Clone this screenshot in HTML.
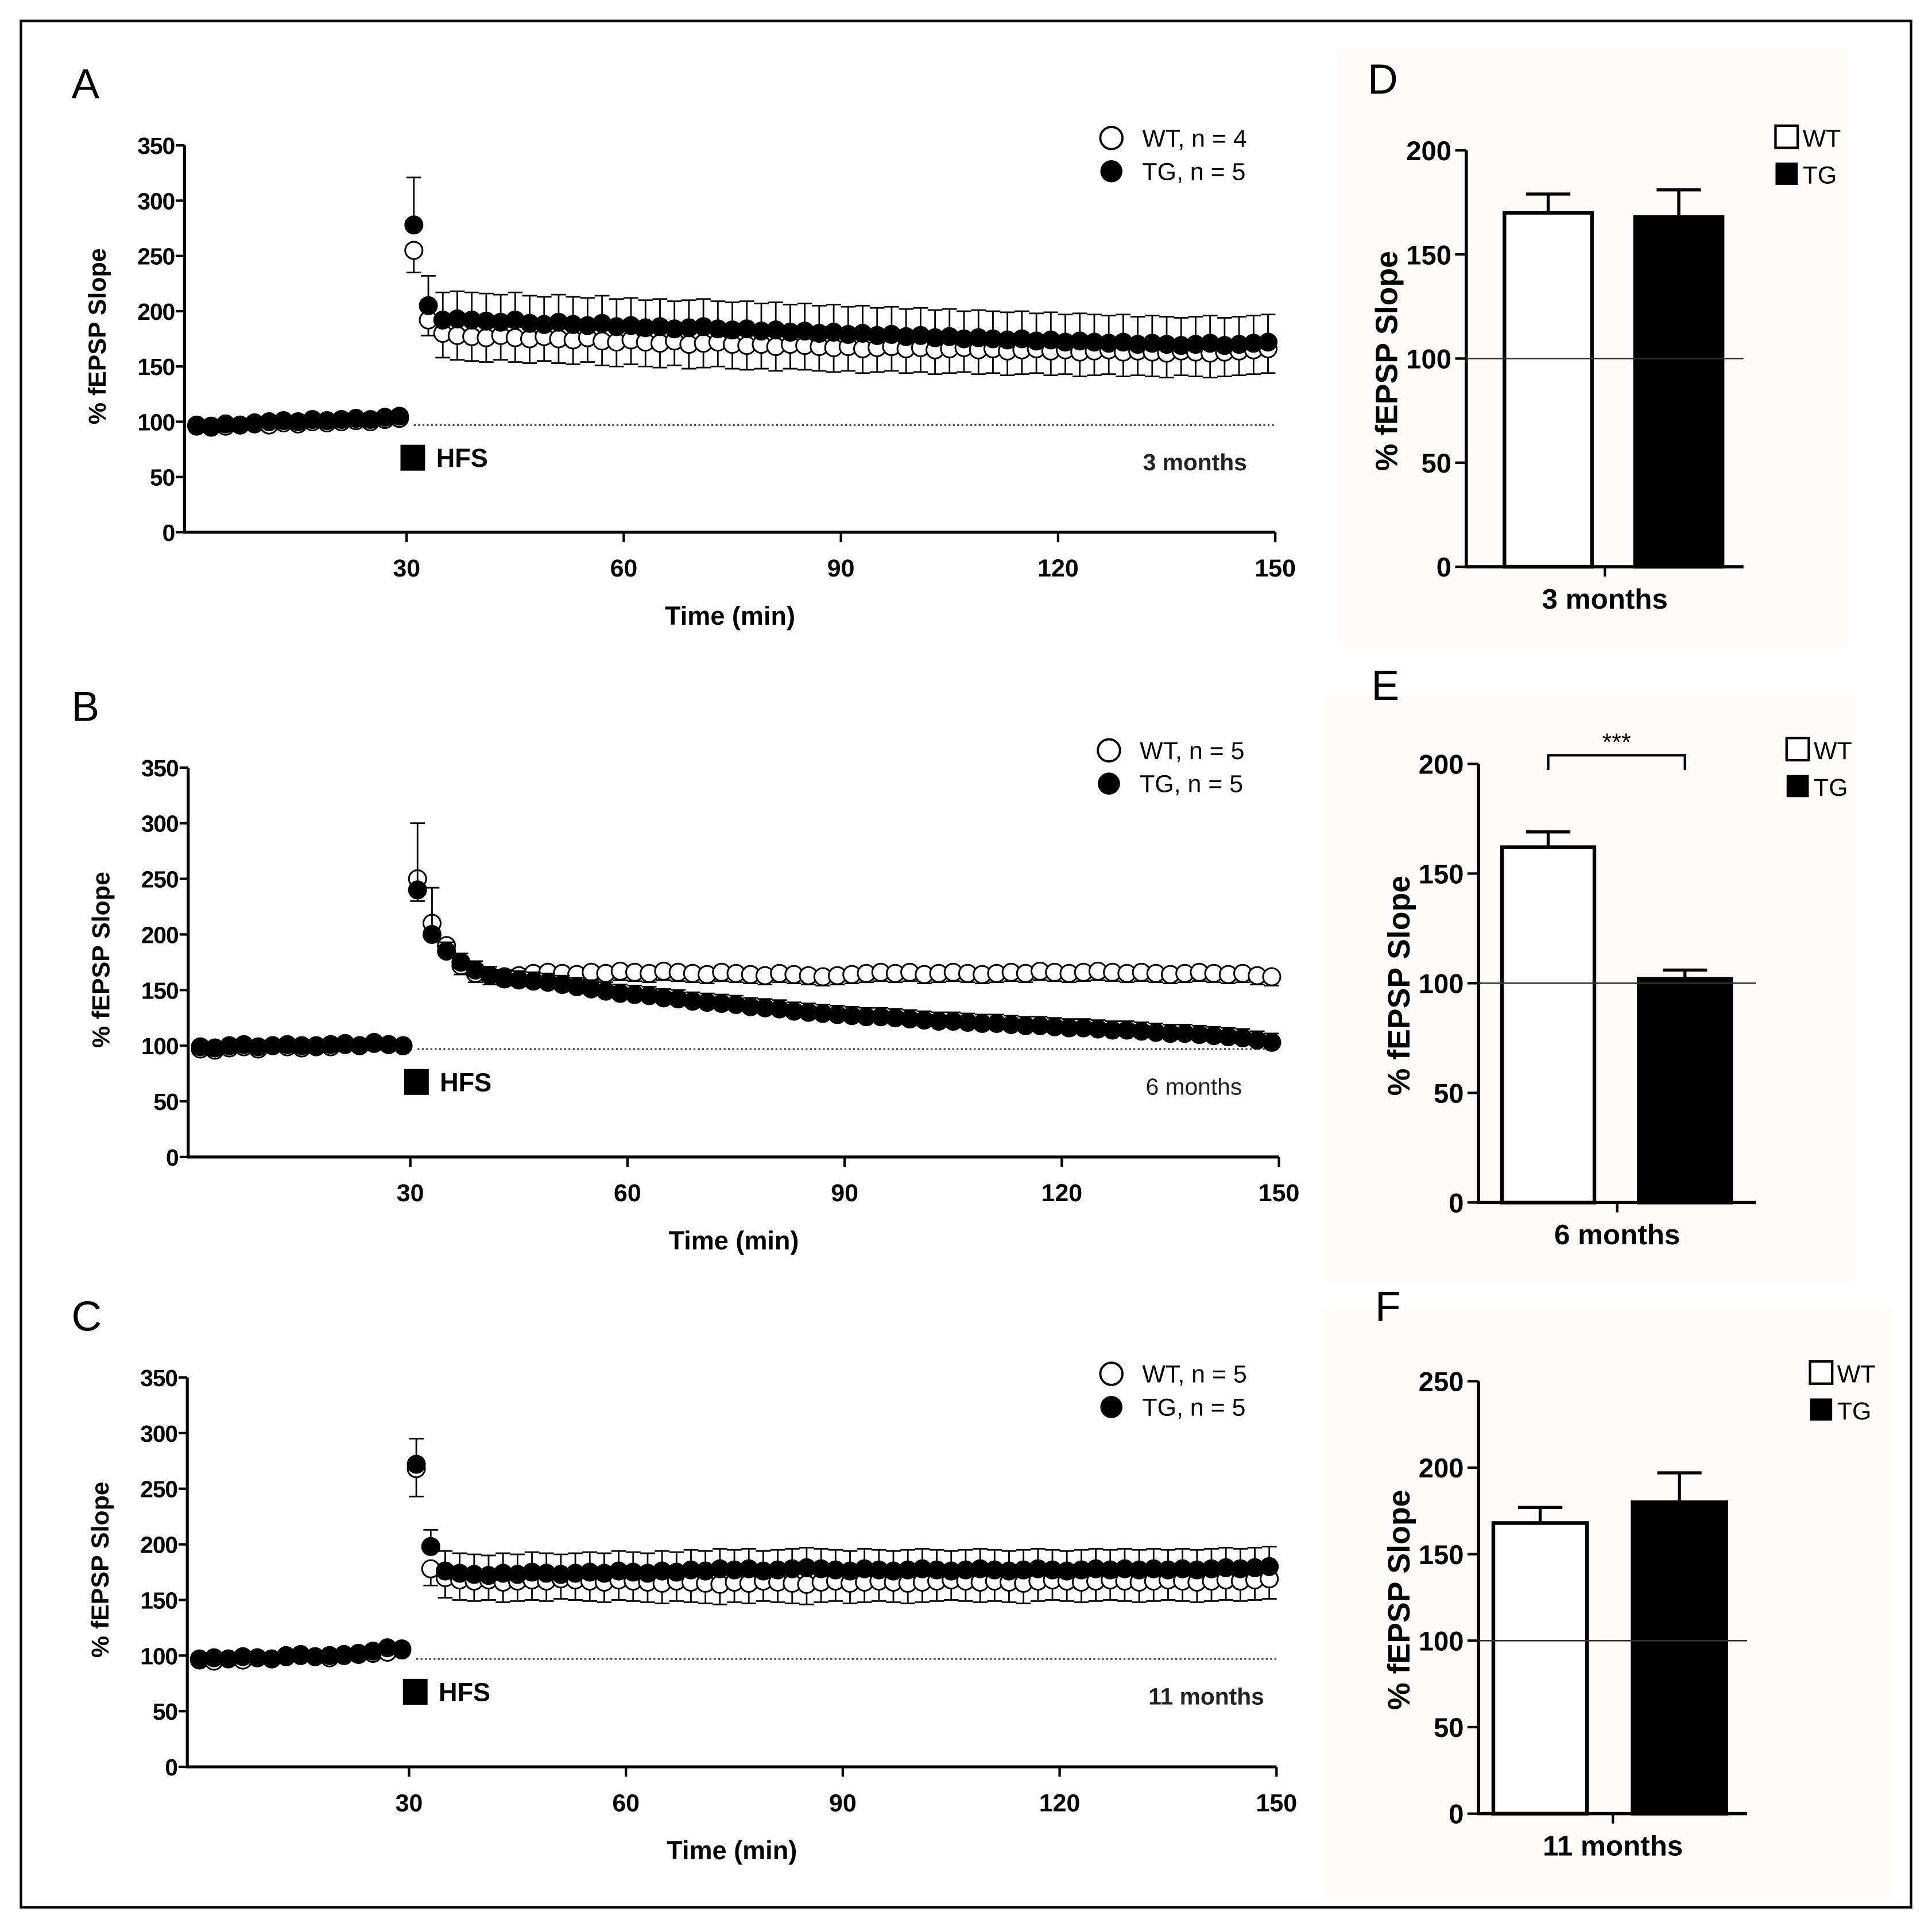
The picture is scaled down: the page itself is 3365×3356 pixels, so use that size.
<!DOCTYPE html>
<html><head><meta charset="utf-8"><style>
html,body{margin:0;padding:0;background:#fff}
svg{display:block}
text{font-family:"Liberation Sans",Arial,sans-serif}
</style></head><body>
<svg id="fig" width="3365" height="3356" viewBox="0 0 1568 1564" preserveAspectRatio="none" xmlns="http://www.w3.org/2000/svg">
<rect x="0" y="0" width="1568" height="1564" fill="#fff"/>
<rect x="17" y="17" width="1534" height="1531" fill="none" stroke="#000" stroke-width="2"/>
<rect x="1085" y="40" width="415" height="485" fill="#fdfcfa"/>
<rect x="1075" y="565" width="430" height="475" fill="#fdfcfa"/>
<rect x="1075" y="1060" width="460" height="480" fill="#fdfcfa"/>
</svg>
<script>
// ---- data ----
const baseTimes = [1,3,5,7,9,11,13,15,17,19,21,23,25,27,29];
const postTimes = [31,33,35,37,39,41,43,45,47,49,51,53,55,57,59,61,63,65,67,69,71,73,75,77,79,81,83,85,87,89,91,93,95,97,99,101,103,105,107,109,111,113,115,117,119,121,123,125,127,129,131,133,135,137,139,141,143,145,147,149];
const xTicks = [30,60,90,120,150];
const yTicksLine = [0,50,100,150,200,250,300,350];

const aWT = [96,95,96,97,98,97,99,98,100,99,100,101,100,102,103,
255,192,180,178,177,176,178,176,175,177,175,174,176,173,172,174,172,171,173,170,171,172,170,169,170,168,170,169,168,167,168,166,167,168,166,167,165,166,167,165,166,164,165,166,164,165,163,164,165,163,164,163,162,164,163,162,163,164,165,166];
const aTG = [97,96,98,97,99,100,101,100,102,101,102,103,102,104,105,
278,205,192,193,192,191,190,192,189,188,190,188,187,189,186,187,185,186,184,185,186,184,183,184,182,183,181,182,180,181,179,180,178,179,177,178,176,177,175,176,175,174,175,173,174,172,173,172,171,172,170,171,170,169,170,171,169,170,171,172];
const bWT = [97,96,98,99,97,100,99,98,100,99,101,100,102,101,100,
250,210,190,172,165,163,162,163,165,166,165,164,166,165,167,166,165,167,166,165,164,166,165,164,163,165,164,163,162,163,164,165,166,165,166,164,165,166,165,164,165,166,165,167,166,165,166,167,166,165,166,165,164,165,166,165,164,165,163,162];
const bTG = [99,98,100,101,99,100,101,100,99,101,102,100,103,101,100,
240,200,185,175,168,163,160,159,158,157,155,153,151,149,147,146,145,143,142,140,139,138,137,135,134,133,131,130,129,128,127,126,126,125,124,123,122,122,121,120,120,119,118,118,117,116,116,115,114,114,113,112,111,111,110,109,108,107,105,103];
const cWT = [96,95,97,96,98,97,99,100,99,98,100,101,102,103,105,
268,178,170,168,167,168,166,167,168,167,169,168,167,166,168,167,166,165,167,166,165,164,166,165,167,166,165,164,166,167,165,166,167,166,165,166,167,168,167,166,167,166,165,167,168,167,166,167,168,167,166,167,168,167,166,167,168,167,168,169];
const cTG = [97,98,97,99,98,97,100,101,99,100,101,102,104,107,106,
272,198,176,174,173,172,174,173,175,174,173,174,175,174,176,175,174,176,175,177,176,178,177,178,176,177,178,179,178,177,176,178,177,176,177,178,177,176,177,178,177,176,177,178,177,176,177,178,177,178,177,178,177,178,177,178,179,178,179,180];
// SEM: [first post point, second, rest]
const aWTerr = [20,14,22]; const aTGerr = [43,27,25];
const bWTerr = [20,15,8];  const bTGerr = [60,42,8];
const cWTerr = [25,15,18]; const cTGerr = [23,15,18];

const barCats = ["WT","TG"];
const dVals = [170,168]; const dErr = [9,13];
const eVals = [162,102]; const eErr = [7,4];
const fVals = [168,180]; const fErr = [9,17];

const NS="http://www.w3.org/2000/svg";
const svg=document.getElementById('fig');
function el(tag,attrs,parent){const e=document.createElementNS(NS,tag);for(const k in attrs)e.setAttribute(k,attrs[k]);(parent||svg).appendChild(e);return e;}
function txt(s,attrs,parent){const e=el('text',attrs,parent);e.textContent=s;return e;}

function linePanel(cfg){
  const g=el('g',{});
  
  
  const x0=cfg.x30-30*(cfg.x150-cfg.x30)/120;
  const X=t=>x0+t*(cfg.x150-cfg.x30)/120;
  const Y=v=>cfg.y0-v*(cfg.y0-cfg.y350)/350;
  const ax=el('path',{d:`M${x0-4} ${cfg.y350} V${cfg.y0} H${cfg.x150}`,fill:'none',stroke:'#000','stroke-width':2.4},g);
  
  
  yTicksLine.forEach(v=>{
    el('line',{x1:x0-11,x2:x0-4,y1:Y(v),y2:Y(v),stroke:'#000','stroke-width':2},g);
    const t=txt(v,{x:x0-12,y:Y(v)+7,'text-anchor':'end','font-size':19,'font-weight':'bold','letter-spacing':'-0.5'},g);
    
    
  });
  xTicks.forEach(v=>{
    el('line',{x1:X(v),x2:X(v),y1:cfg.y0,y2:cfg.y0+8,stroke:'#000','stroke-width':2},g);
    const t=txt(v,{x:X(v),y:cfg.y0+36,'text-anchor':'middle','font-size':20,'font-weight':'bold'},g);
    
    
  });
  const xt=txt('Time (min)',{x:(X(30)+X(150))/2-90,y:cfg.y0+75,'text-anchor':'middle','font-size':21,'font-weight':'bold'},g);
  
  
  const yc=(cfg.y0+cfg.y350)/2-2;
  const yt=txt('% fEPSP Slope',{x:0,y:0,transform:`translate(${x0-68},${yc}) rotate(-90)`,'text-anchor':'middle','font-size':20,'font-weight':'bold'},g);
  
  
  const pl=txt(cfg.letter,{x:58,y:cfg.y350-38,'font-size':34},g);
  
  
  const dl=el('line',{x1:X(31),x2:X(150),y1:Y(97),y2:Y(97),stroke:'#444','stroke-width':1.5,'stroke-dasharray':'1.5,2'},g);
  
  
  const hs=el('rect',{x:X(30)-5,y:Y(68)-10,width:20,height:21,fill:'#000'},g);
  
  
  txt('HFS',{x:X(30)+24,y:Y(68)+8,'font-size':21,'font-weight':'bold'},g);
  const ag=txt(cfg.age,{x:cfg.ageX,y:Y(56),'text-anchor':'end','font-size':19,'font-weight':cfg.ageBold?'bold':'normal',fill:'#222'},g);
  
  
  const times=baseTimes.concat(postTimes);
  function series(vals,err,filled,dir,nm){
    const sg=el('g',{},g);
    
    
    vals.forEach((v,i)=>{
      if(i>=baseTimes.length){
        const k=i-baseTimes.length; const e=err[Math.min(k,2)];
        const ye=Y(v+dir*e);
        el('line',{x1:X(times[i]),x2:X(times[i]),y1:Y(v),y2:ye,stroke:'#000','stroke-width':1.3},sg);
        el('line',{x1:X(times[i])-6,x2:X(times[i])+6,y1:ye,y2:ye,stroke:'#000','stroke-width':1.3},sg);
      }
    });
    vals.forEach((v,i)=>{
      const c=el('circle',{cx:X(times[i]),cy:Y(v),r:7,fill:filled?'#000':'#fff',stroke:'#000','stroke-width':1.4},sg);
      
      
    });
  }
  series(cfg.wt,cfg.wtErr,false,-1,'wt-series');
  series(cfg.tg,cfg.tgErr,true,1,'tg-series');
  const lg=el('g',{},g);
  
  
  el('circle',{cx:cfg.legX,cy:cfg.legY,r:9,fill:'#fff',stroke:'#000','stroke-width':1.8},lg);
  el('circle',{cx:cfg.legX,cy:cfg.legY+27,r:9,fill:'#000'},lg);
  txt(cfg.wtLab,{x:cfg.legX+25,y:cfg.legY+7,'font-size':20},lg);
  txt(cfg.tgLab,{x:cfg.legX+25,y:cfg.legY+34,'font-size':20},lg);
}

linePanel({name:'panel-a',letter:'A',x30:330,x150:1035,y0:432,y350:118,wt:aWT,tg:aTG,wtErr:aWTerr,tgErr:aTGerr,age:'3 months',ageX:1012,ageBold:true,legX:902,legY:112,wtLab:'WT, n = 4',tgLab:'TG, n = 5'});
linePanel({name:'panel-b',letter:'B',x30:333,x150:1038,y0:939,y350:623,wt:bWT,tg:bTG,wtErr:bWTerr,tgErr:bTGerr,age:'6 months',ageX:1008,ageBold:false,legX:900,legY:609,wtLab:'WT, n = 5',tgLab:'TG, n = 5'});
linePanel({name:'panel-c',letter:'C',x30:332,x150:1036,y0:1434,y350:1118,wt:cWT,tg:cTG,wtErr:cWTerr,tgErr:cTGerr,age:'11 months',ageX:1026,ageBold:true,legX:902,legY:1115,wtLab:'WT, n = 5',tgLab:'TG, n = 5'});

function barPanel(cfg){
  const g=el('g',{});
  
  
  const Y=v=>cfg.y0-v*(cfg.y0-cfg.yTop)/cfg.yMax;
  el('path',{d:`M${cfg.xa} ${cfg.yTop} V${cfg.y0} H${cfg.xe}`,fill:'none',stroke:'#000','stroke-width':2.6},g);
  cfg.ticks.forEach(v=>{
    el('line',{x1:cfg.xa-9,x2:cfg.xa,y1:Y(v),y2:Y(v),stroke:'#000','stroke-width':2},g);
    const t=txt(v,{x:cfg.xa-12,y:Y(v)+8,'text-anchor':'end','font-size':22,'font-weight':'bold'},g);
    
    
  });
  const xm=(cfg.xa+cfg.xe)/2;
  el('line',{x1:xm,x2:xm,y1:cfg.y0,y2:cfg.y0+8,stroke:'#000','stroke-width':2},g);
  const xl=txt(cfg.age,{x:xm,y:cfg.y0+34,'text-anchor':'middle','font-size':23,'font-weight':'bold'},g);
  
  
  const yc=(cfg.y0+cfg.yTop)/2+2;
  const yt=txt('% fEPSP Slope',{x:0,y:0,transform:`translate(${cfg.xa-56},${yc}) rotate(-90)`,'text-anchor':'middle','font-size':25,'font-weight':'bold'},g);
  
  
  const pl=txt(cfg.letter,{x:cfg.letX,y:cfg.letY,'font-size':34},g);
  
  
  cfg.vals.forEach((v,i)=>{
    const bx=cfg.bx[i], bw=cfg.bw;
    const ye=Y(v+cfg.err[i]);
    el('line',{x1:bx+bw/2,x2:bx+bw/2,y1:Y(v),y2:ye,stroke:'#000','stroke-width':2.5},g);
    el('line',{x1:bx+bw/2-18,x2:bx+bw/2+18,y1:ye,y2:ye,stroke:'#000','stroke-width':2.5},g);
    const r=el('rect',{x:bx,y:Y(v),width:bw,height:cfg.y0-Y(v),fill:i===0?'#fff':'#000',stroke:'#000','stroke-width':3},g);
    
    
  });
  const rl=el('line',{x1:cfg.xa,x2:cfg.xe,y1:Y(100),y2:Y(100),stroke:'#333','stroke-width':1.2},g);
  
  
  const lg=el('g',{},g);
  
  
  el('rect',{x:cfg.legX,y:cfg.legY-9,width:18,height:18,fill:'#fff',stroke:'#000','stroke-width':2},lg);
  el('rect',{x:cfg.legX,y:cfg.legY+21,width:18,height:18,fill:'#000'},lg);
  txt(barCats[0],{x:cfg.legX+22,y:cfg.legY+8,'font-size':20},lg);
  txt(barCats[1],{x:cfg.legX+22,y:cfg.legY+38,'font-size':20},lg);
  if(cfg.sig){
    const y=cfg.sigY;
    el('path',{d:`M${cfg.bx[0]+cfg.bw/2} ${y+12} V${y} H${cfg.bx[1]+cfg.bw/2} V${y+12}`,fill:'none',stroke:'#000','stroke-width':2},g);
    const s=txt('***',{x:(cfg.bx[0]+cfg.bx[1]+cfg.bw)/2,y:y-4,'text-anchor':'middle','font-size':20},g);
    
    
  }
}
barPanel({name:'panel-d',letter:'D',letX:1110,letY:76,xa:1190,xe:1415,y0:460,yTop:122,yMax:200,ticks:[0,50,100,150,200],vals:dVals,err:dErr,bx:[1221,1327],bw:71,age:'3 months',legX:1441,legY:111});
barPanel({name:'panel-e',letter:'E',letX:1113,letY:568,xa:1200,xe:1425,y0:976,yTop:620,yMax:200,ticks:[0,50,100,150,200],vals:eVals,err:eErr,bx:[1219,1330],bw:75,age:'6 months',legX:1450,legY:608,sig:true,sigY:613});
barPanel({name:'panel-f',letter:'F',letX:1116,letY:1072,xa:1200,xe:1418,y0:1472,yTop:1121,yMax:250,ticks:[0,50,100,150,200,250],vals:fVals,err:fErr,bx:[1212,1325],bw:76,age:'11 months',legX:1469,legY:1114});
</script>
</body></html>
